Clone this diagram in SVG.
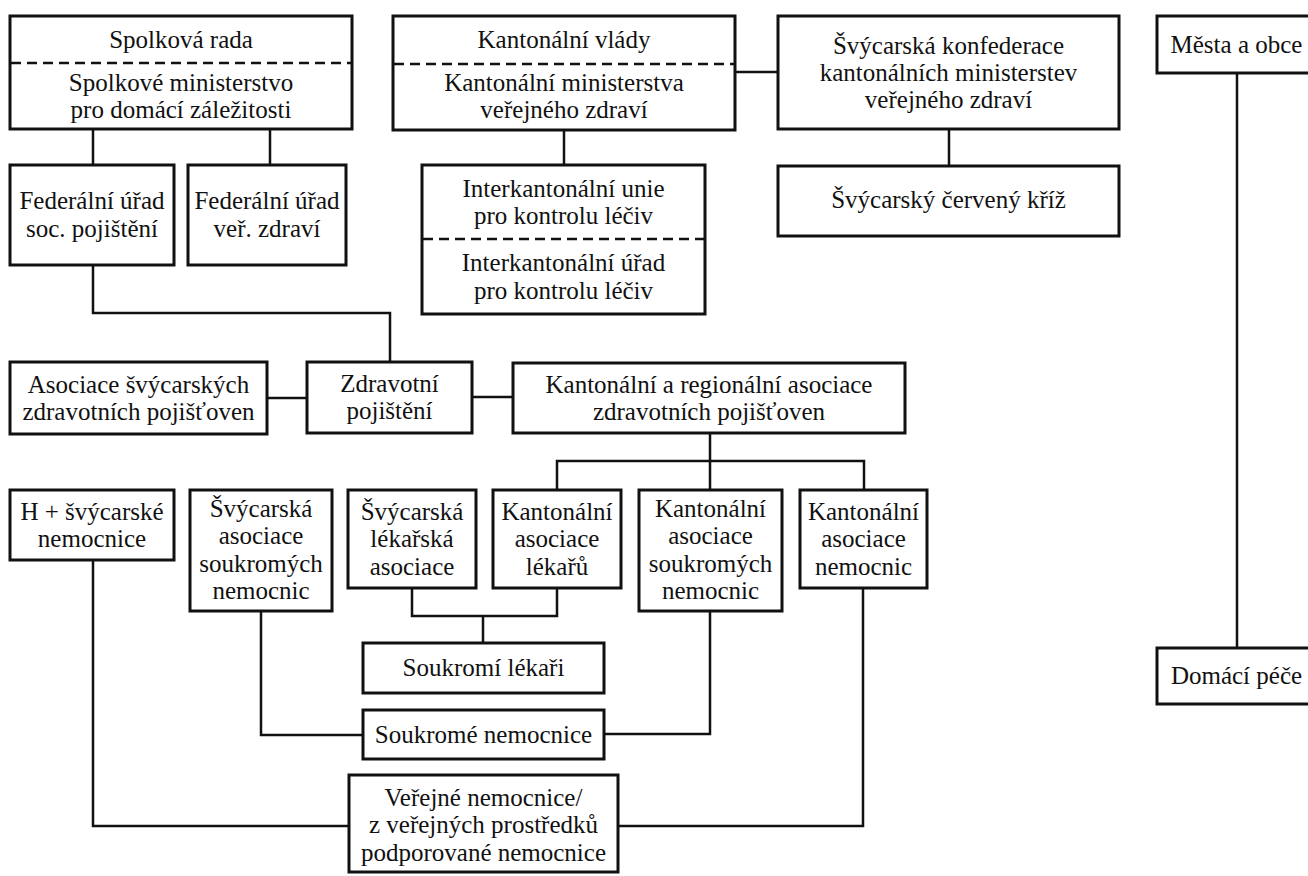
<svg xmlns="http://www.w3.org/2000/svg" width="1308" height="876" viewBox="0 0 1308 876">
<style>
.b{fill:#fff;stroke:#111;stroke-width:3}
.d{stroke:#111;stroke-width:2.5;stroke-dasharray:10 6;fill:none}
.c{fill:none;stroke:#111;stroke-width:2.5}
text{font-family:"Liberation Serif","Times New Roman",serif;font-size:25px;fill:#111;text-anchor:middle}
</style>
<rect width="1308" height="876" fill="#fff"/>
<g id="connectors">
<path class="c" d="M93 129V165M270 129V165"/>
<path class="c" d="M93 265V313H390V362"/>
<path class="c" d="M735 72H778"/>
<path class="c" d="M564 130V165"/>
<path class="c" d="M949 129V166"/>
<path class="c" d="M1237 73V648"/>
<path class="c" d="M267 398H307"/>
<path class="c" d="M472 397H513"/>
<path class="c" d="M710 433V490M557 490V461H864V490"/>
<path class="c" d="M412 588V616H557V588M483 616V643"/>
<path class="c" d="M93 560V826H349"/>
<path class="c" d="M261 611V735H363"/>
<path class="c" d="M604 734H710V611"/>
<path class="c" d="M618 826H863V588"/>
</g>
<g id="spolkova-rada">
<rect class="b" x="10" y="16" width="342" height="113"/>
<line class="d" x1="11" y1="63" x2="351" y2="63"/>
<text x="181" y="48">Spolková rada</text>
<text x="181" y="91">Spolkové ministerstvo</text>
<text x="181" y="118">pro domácí záležitosti</text>
</g>
<g id="fed-soc">
<rect class="b" x="10" y="165" width="164" height="100"/>
<text x="92" y="209">Federální úřad</text>
<text x="92" y="237">soc. pojištění</text>
</g>
<g id="fed-ver">
<rect class="b" x="188" y="165" width="158" height="100"/>
<text x="267" y="209">Federální úřad</text>
<text x="267" y="237">veř. zdraví</text>
</g>
<g id="kant-vlady">
<rect class="b" x="393" y="16" width="342" height="114"/>
<line class="d" x1="394" y1="64" x2="734" y2="64"/>
<text x="564" y="48">Kantonální vlády</text>
<text x="564" y="91">Kantonální ministerstva</text>
<text x="564" y="118">veřejného zdraví</text>
</g>
<g id="svyc-konf">
<rect class="b" x="778" y="16" width="341" height="113"/>
<text x="948.5" y="54">Švýcarská konfederace</text>
<text x="948.5" y="81">kantonálních ministerstev</text>
<text x="948.5" y="108">veřejného zdraví</text>
</g>
<g id="cerveny-kriz">
<rect class="b" x="778" y="166" width="341" height="70"/>
<text x="948.5" y="208">Švýcarský červený kříž</text>
</g>
<g id="interkant">
<rect class="b" x="422" y="165" width="283" height="149"/>
<line class="d" x1="423" y1="239" x2="704" y2="239"/>
<text x="563.5" y="197">Interkantonální unie</text>
<text x="563.5" y="224">pro kontrolu léčiv</text>
<text x="563.5" y="271">Interkantonální úřad</text>
<text x="563.5" y="299">pro kontrolu léčiv</text>
</g>
<g id="mesta">
<rect class="b" x="1157" y="16" width="165" height="57"/>
<text x="1236.5" y="53">Města a obce</text>
</g>
<g id="domaci">
<rect class="b" x="1157" y="648" width="165" height="56"/>
<text x="1236.5" y="684">Domácí péče</text>
</g>
<g id="asoc-svyc">
<rect class="b" x="10" y="362" width="257" height="72"/>
<text x="138.5" y="393">Asociace švýcarských</text>
<text x="138.5" y="420">zdravotních pojišťoven</text>
</g>
<g id="zdrav">
<rect class="b" x="307" y="362" width="165" height="71"/>
<text x="389.5" y="392">Zdravotní</text>
<text x="389.5" y="419">pojištění</text>
</g>
<g id="kant-reg">
<rect class="b" x="513" y="363" width="392" height="70"/>
<text x="709" y="393">Kantonální a regionální asociace</text>
<text x="709" y="420">zdravotních pojišťoven</text>
</g>
<g id="h-plus">
<rect class="b" x="10" y="490" width="164" height="70"/>
<text x="92" y="520">H + švýcarské</text>
<text x="92" y="547">nemocnice</text>
</g>
<g id="svyc-aso-souk">
<rect class="b" x="190" y="490" width="142" height="121"/>
<text x="261" y="517">Švýcarská</text>
<text x="261" y="544">asociace</text>
<text x="261" y="572">soukromých</text>
<text x="261" y="599">nemocnic</text>
</g>
<g id="svyc-lek">
<rect class="b" x="348" y="490" width="128" height="98"/>
<text x="412" y="520">Švýcarská</text>
<text x="412" y="547">lékařská</text>
<text x="412" y="575">asociace</text>
</g>
<g id="kant-lek">
<rect class="b" x="493" y="490" width="128" height="98"/>
<text x="557" y="520">Kantonální</text>
<text x="557" y="547">asociace</text>
<text x="557" y="575">lékařů</text>
</g>
<g id="kant-aso-souk">
<rect class="b" x="639" y="490" width="143" height="121"/>
<text x="710.5" y="517">Kantonální</text>
<text x="710.5" y="544">asociace</text>
<text x="710.5" y="572">soukromých</text>
<text x="710.5" y="599">nemocnic</text>
</g>
<g id="kant-nem">
<rect class="b" x="800" y="490" width="127" height="98"/>
<text x="863.5" y="520">Kantonální</text>
<text x="863.5" y="547">asociace</text>
<text x="863.5" y="575">nemocnic</text>
</g>
<g id="soukromi-lekari">
<rect class="b" x="363" y="643" width="241" height="50"/>
<text x="483.5" y="676">Soukromí lékaři</text>
</g>
<g id="soukrome-nem">
<rect class="b" x="363" y="710" width="241" height="49"/>
<text x="483.5" y="743">Soukromé nemocnice</text>
</g>
<g id="verejne">
<rect class="b" x="349" y="775" width="269" height="97"/>
<text x="483.5" y="806">Veřejné nemocnice/</text>
<text x="483.5" y="833">z veřejných prostředků</text>
<text x="483.5" y="861">podporované nemocnice</text>
</g>
</svg>
